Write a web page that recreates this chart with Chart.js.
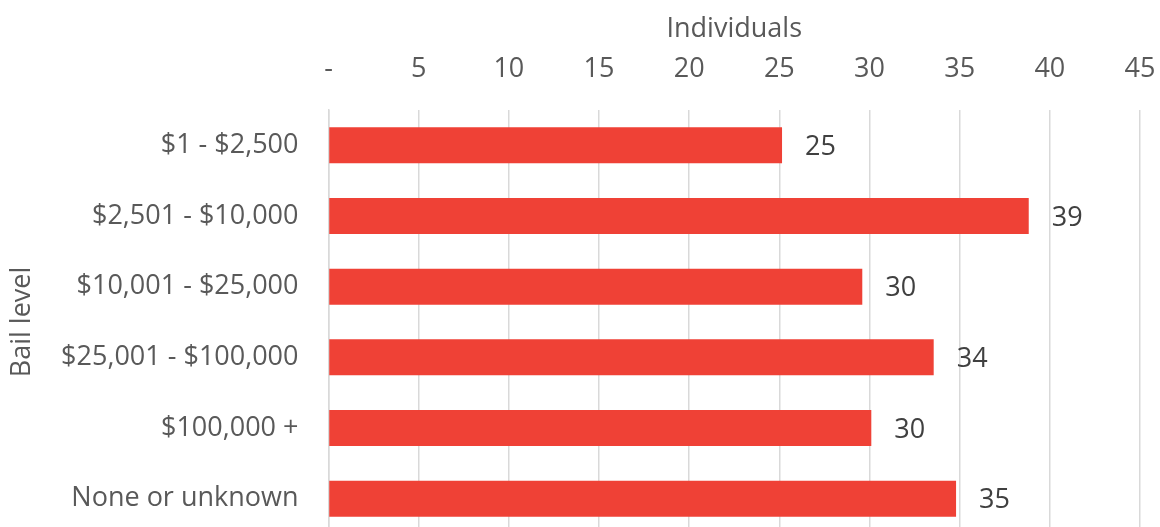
<!DOCTYPE html>
<html>
<head>
<meta charset="utf-8">
<script src="https://cdn.jsdelivr.net/npm/chart.js@4/dist/chart.umd.min.js"></script>
<style>
html,body{margin:0;padding:0;background:#fff;overflow:hidden;}
#wrap{width:1160px;height:527px;overflow:hidden;}
canvas{display:block;}
</style>
</head>
<body>
<div id="wrap"><canvas id="c" width="1160" height="534"></canvas></div>
<script>
const categories = ["$1 - $2,500", "$2,501 - $10,000", "$10,001 - $25,000", "$25,001 - $100,000", "$100,000 +", "None or unknown"];
const individuals = [25.15, 38.83, 29.6, 33.56, 30.1, 34.8];
const tickValues = [0, 5, 10, 15, 20, 25, 30, 35, 40, 45];
const tickLabels = ["-", "5", "10", "15", "20", "25", "30", "35", "40", "45"];

const FONT = "'Open Sans', sans-serif";
const FS = 27;

const labelPlugin = {
  id: 'barLabels',
  afterDatasetsDraw(chart) {
    const ctx = chart.ctx;
    const meta = chart.getDatasetMeta(0);
    ctx.save();
    ctx.font = FS + "px " + FONT;
    ctx.fillStyle = "#404040";
    ctx.textAlign = "left";
    ctx.textBaseline = "middle";
    meta.data.forEach((bar, i) => {
      ctx.fillText(String(Math.round(individuals[i])), bar.x + 23, bar.y + 2);
    });
    ctx.restore();
  }
};

function zeroPad(scale) {
  scale.paddingLeft = 0; scale.paddingRight = 0;
  scale.paddingTop = 0; scale.paddingBottom = 0;
}

new Chart(document.getElementById('c'), {
  type: 'bar',
  data: {
    labels: categories,
    datasets: [{
      data: individuals,
      backgroundColor: 'rgb(239,65,54)',
      borderWidth: 0,
      barPercentage: 0.51,
      categoryPercentage: 1.0
    }]
  },
  options: {
    indexAxis: 'y',
    responsive: false,
    animation: false,
    layout: { padding: { left: 0, right: 20, top: 0, bottom: 0 } },
    plugins: { legend: { display: false }, tooltip: { enabled: false } },
    scales: {
      x: {
        position: 'top',
        min: 0, max: 45,
        afterBuildTicks(scale) { scale.ticks = tickValues.map(v => ({ value: v })); },
        afterFit(scale) { scale.height = 110; zeroPad(scale); },
        ticks: {
          callback: (v) => tickLabels[tickValues.indexOf(v)],
          color: '#595959',
          font: { family: FONT, size: FS },
          padding: 24,
          maxRotation: 0
        },
        grid: { color: '#d9d9d9', lineWidth: 1.5, drawTicks: false },
        border: { display: false },
        title: {
          display: true, text: 'Individuals', color: '#595959',
          font: { family: FONT, size: FS }, padding: { top: 13, bottom: 0 }
        }
      },
      y: {
        afterFit(scale) { scale.width = 328.5; zeroPad(scale); },
        ticks: {
          color: '#595959',
          font: { family: FONT, size: FS },
          padding: 30
        },
        grid: { display: false, drawTicks: false },
        border: { display: true, color: '#d9d9d9', width: 1.5 },
        title: {
          display: true, text: 'Bail level', color: '#595959',
          font: { family: FONT, size: FS }, padding: { top: 6, bottom: 0 }
        }
      }
    }
  },
  plugins: [labelPlugin]
});
</script>
</body>
</html>
